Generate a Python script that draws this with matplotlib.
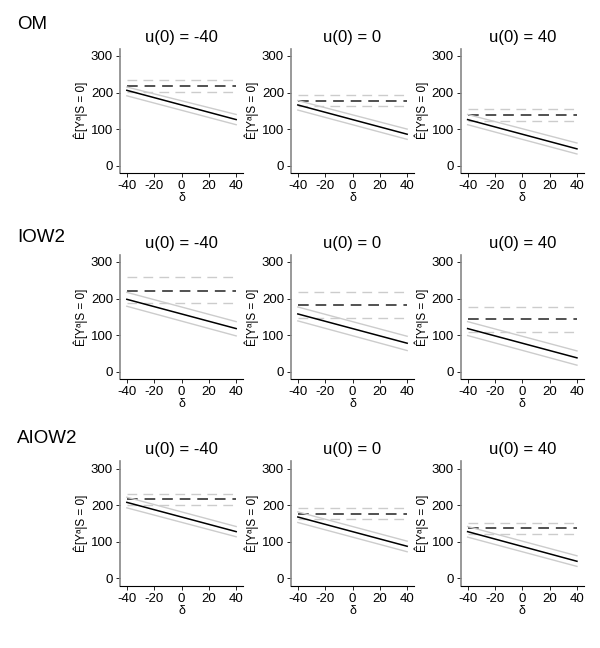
import numpy as np
import matplotlib
matplotlib.use("Agg")
import matplotlib.pyplot as plt

plt.rcParams['font.family'] = ['Liberation Sans', 'DejaVu Sans']
plt.rcParams['axes.unicode_minus'] = False

methods = ["OM", "IOW2", "AIOW2"]
u0 = [-40, 0, 40]
delta = [-40, 40]

# flat reference estimate (dashed) and its CI, per method x u(0)
flat_est = [[218, 178, 138], [222, 182, 143], [217, 177, 137]]
flat_lo = [[202, 162, 122], [188, 147, 108], [202, 162, 122]]
flat_hi = [[234, 194, 154], [258, 218, 178], [232, 192, 152]]

# sloped estimate at delta = -40 and delta = 40, with CI
line_est = [[[206, 126], [166, 86], [126, 46]],
            [[198, 118], [158, 78], [118, 38]],
            [[208, 128], [168, 88], [128, 47]]]
line_lo = [[[191, 112], [152, 72], [112, 32]],
           [[179, 98], [139, 58], [99, 18]],
           [[193, 114], [153, 73], [113, 33]]]
line_hi = [[[215, 140], [178, 100], [140, 62]],
           [[217, 137], [177, 97], [137, 57]],
           [[222, 142], [182, 102], [142, 62]]]

fig = plt.figure(figsize=(6, 6.48), dpi=100)

lefts = [0.2, 0.485, 0.768]
bottoms = [0.733, 0.415, 0.096]
row_label_y = [0.962, 0.634, 0.323]
dash = (0, (7, 4.5))
grey = "#cccccc"

for i, m in enumerate(methods):
    fig.text(0.028, row_label_y[i], m, fontsize=13.5, va="center", ha="left")
    for j, u in enumerate(u0):
        ax = fig.add_axes([lefts[j], bottoms[i], 0.205, 0.192])
        ax.plot(delta, [flat_hi[i][j]] * 2, color=grey, ls=dash, lw=1)
        ax.plot(delta, [flat_lo[i][j]] * 2, color=grey, ls=dash, lw=1)
        ax.plot(delta, [flat_est[i][j]] * 2, color="#222222", ls=dash, lw=1.1)
        ax.plot(delta, line_hi[i][j], color=grey, lw=1)
        ax.plot(delta, line_lo[i][j], color=grey, lw=1)
        ax.plot(delta, line_est[i][j], color="black", lw=1.1)
        ax.set_xlim(-45, 45)
        ax.set_ylim(-20, 320)
        ax.set_xticks([-40, -20, 0, 20, 40])
        ax.set_yticks([0, 100, 200, 300])
        ax.spines["top"].set_visible(False)
        ax.spines["right"].set_visible(False)
        ax.spines["left"].set_color("#888888")
        ax.spines["left"].set_linewidth(1.2)
        ax.spines["bottom"].set_linewidth(0.8)
        ax.tick_params(labelsize=9.5, length=3, width=0.6, pad=2)
        ax.set_xlabel("δ", fontsize=9, labelpad=0)
        ax.set_ylabel("Ê[Yᵃ|S = 0]", fontsize=8.5, labelpad=2)
        ax.set_title("u(0) = %d" % u, fontsize=12, pad=5)

fig.savefig("out.png", dpi=100)
